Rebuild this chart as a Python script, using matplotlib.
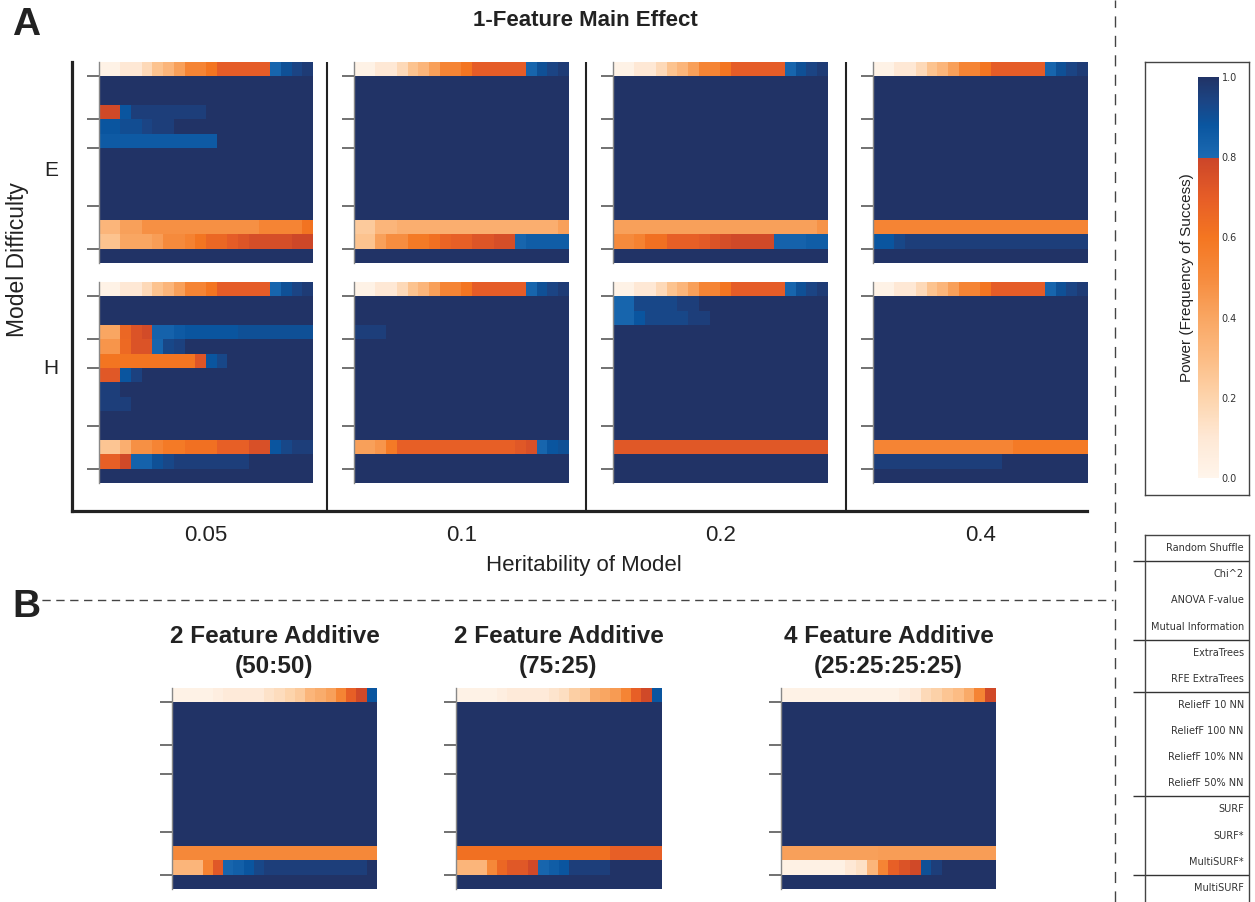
import numpy as np
import matplotlib
matplotlib.use("Agg")
import matplotlib.pyplot as plt
from matplotlib.colors import LinearSegmentedColormap, Normalize
from matplotlib.cm import ScalarMappable
from matplotlib.lines import Line2D

plt.rcParams['font.family'] = ['Liberation Sans', 'DejaVu Sans']

# ---- data (power values, 14 methods x 20 columns) ----
methods = ['Random Shuffle', 'Chi^2', 'ANOVA F-value', 'Mutual Information',
           'ExtraTrees', 'RFE ExtraTrees', 'ReliefF 10 NN', 'ReliefF 100 NN',
           'ReliefF 10% NN', 'ReliefF 50% NN', 'SURF', 'SURF*', 'MultiSURF*',
           'MultiSURF']
group_breaks = [1, 4, 6, 10, 13]
heritability = ['0.05', '0.1', '0.2', '0.4']
difficulty = ['E', 'H']
b_titles = ['2 Feature Additive\n(50:50)', '2 Feature Additive\n(75:25)',
            '4 Feature Additive\n(25:25:25:25)']

# top row (Random Shuffle)
shuffle_a = [0.02, 0.02, 0.10, 0.10, 0.17, 0.27, 0.33, 0.42, 0.53, 0.53,
             0.60, 0.70, 0.70, 0.70, 0.70, 0.70, 0.82, 0.90, 0.94, 0.97]
shuffle_b1 = [0.02, 0.02, 0.02, 0.02, 0.05, 0.08, 0.08, 0.08, 0.08, 0.13,
              0.16, 0.20, 0.24, 0.33, 0.37, 0.42, 0.53, 0.69, 0.78, 0.88]
shuffle_b2 = [0.02, 0.02, 0.02, 0.02, 0.05, 0.08, 0.08, 0.08, 0.08, 0.12,
              0.15, 0.22, 0.24, 0.37, 0.40, 0.44, 0.53, 0.69, 0.78, 0.88]
shuffle_b3 = [0.02, 0.02, 0.02, 0.02, 0.02, 0.02, 0.02, 0.02, 0.02, 0.02,
              0.02, 0.06, 0.09, 0.17, 0.21, 0.26, 0.30, 0.38, 0.53, 0.78]

# other rows as (value, number of columns) runs; rows not listed are 1.0
E_005 = {3: [(0.78, 2), (0.88, 1), (0.96, 7), (1.0, 10)],
         4: [(0.88, 2), (0.91, 2), (0.94, 1), (0.96, 2), (1.0, 13)],
         5: [(0.86, 11), (1.0, 9)],
         11: [(0.33, 2), (0.42, 2), (0.48, 11), (0.53, 4), (0.61, 1)],
         12: [(0.27, 2), (0.40, 3), (0.43, 1), (0.50, 2), (0.54, 1), (0.60, 1),
              (0.66, 2), (0.70, 1), (0.73, 1), (0.76, 4), (0.79, 2)]}
H_005 = {3: [(0.40, 2), (0.66, 1), (0.74, 1), (0.77, 1), (0.83, 2), (0.86, 1),
             (0.88, 5), (0.90, 7)],
         4: [(0.46, 2), (0.65, 1), (0.74, 2), (0.82, 1), (0.93, 1), (0.95, 1), (1.0, 12)],
         5: [(0.60, 9), (0.73, 1), (0.88, 1), (0.93, 1), (1.0, 8)],
         6: [(0.72, 2), (0.88, 1), (0.95, 1), (1.0, 16)],
         7: [(0.96, 2), (1.0, 18)],
         8: [(0.96, 3), (1.0, 17)],
         11: [(0.26, 2), (0.36, 1), (0.48, 2), (0.53, 1), (0.58, 2), (0.62, 3),
              (0.69, 3), (0.75, 2), (0.88, 1), (0.93, 1), (0.96, 2)],
         12: [(0.69, 2), (0.78, 1), (0.83, 2), (0.90, 1), (0.93, 1), (0.96, 7), (1.0, 6)]}
E_01 = {11: [(0.24, 2), (0.33, 2), (0.36, 15), (0.42, 1)],
        12: [(0.27, 2), (0.42, 1), (0.49, 2), (0.58, 2), (0.62, 1), (0.67, 1),
             (0.69, 2), (0.73, 2), (0.76, 2), (0.82, 1), (0.85, 4)]}
H_01 = {3: [(0.96, 3), (1.0, 17)],
        11: [(0.42, 2), (0.46, 1), (0.58, 1), (0.69, 11), (0.72, 1), (0.75, 1),
             (0.82, 1), (0.88, 1), (0.90, 1)]}
E_02 = {11: [(0.42, 19), (0.47, 1)],
        12: [(0.50, 2), (0.54, 1), (0.62, 2), (0.69, 3), (0.71, 1), (0.74, 1),
             (0.76, 1), (0.78, 4), (0.83, 3), (0.85, 2)]}
H_02 = {1: [(0.82, 2), (0.93, 4), (0.96, 2), (1.0, 12)],
        2: [(0.82, 2), (0.88, 1), (0.93, 4), (0.96, 2), (1.0, 11)],
        11: [(0.72, 20)]}
E_04 = {11: [(0.53, 20)],
        12: [(0.88, 2), (0.93, 1), (0.96, 17)]}
H_04 = {11: [(0.53, 13), (0.58, 7)],
        12: [(0.96, 12), (1.0, 8)]}
add_50_50 = {11: [(0.51, 20)],
             12: [(0.33, 3), (0.54, 1), (0.72, 1), (0.82, 1), (0.84, 1), (0.88, 1),
                  (0.93, 1), (0.96, 10), (1.0, 1)]}
add_75_25 = {11: [(0.62, 15), (0.69, 5)],
             12: [(0.33, 3), (0.51, 1), (0.66, 1), (0.72, 2), (0.78, 1), (0.82, 1),
                  (0.85, 1), (0.88, 1), (0.96, 4), (1.0, 5)]}
add_4 = {11: [(0.42, 9), (0.43, 11)],
         12: [(0.03, 6), (0.10, 1), (0.14, 1), (0.33, 1), (0.53, 1), (0.69, 1),
              (0.74, 1), (0.78, 1), (0.90, 1), (0.96, 1), (1.0, 5)]}

# colour map: oranges up to 0.8, blues above
cmap = LinearSegmentedColormap.from_list('power', [
    (0.00, '#FFF5EB'), (0.10, '#FEE8D5'), (0.20, '#FDD4AC'), (0.30, '#FCBC84'),
    (0.40, '#F9A662'), (0.50, '#F68B3D'), (0.60, '#F47621'), (0.70, '#E65D27'),
    (0.80, '#CB4529'), (0.80, '#1C6AB2'), (0.88, '#0A56A0'), (0.94, '#1B4585'),
    (1.00, '#213366')], N=512)
norm = Normalize(0, 1)

W, H = 1255, 902
fig = plt.figure(figsize=(W / 100, H / 100), dpi=100)


def px_axes(x0, y0, x1, y1):
    return fig.add_axes([x0 / W, 1 - y1 / H, (x1 - x0) / W, (y1 - y0) / H])


def grid(rows, top):
    m = np.ones((len(methods), 20))
    m[0] = top
    for r, segs in rows.items():
        m[r] = np.concatenate([np.full(n, v) for v, n in segs])
    return m


def heat(rect, m, title=None):
    ax = px_axes(*rect)
    ax.imshow(m, cmap=cmap, norm=norm, aspect='auto', interpolation='nearest')
    ax.set_xticks([])
    ax.set_yticks([b - 0.5 for b in group_breaks])
    ax.set_yticklabels([])
    ax.tick_params(axis='y', length=9, width=1.3, color='#666666')
    for s in ['top', 'right', 'bottom']:
        ax.spines[s].set_visible(False)
    ax.spines['left'].set_color('#888888')
    ax.spines['left'].set_linewidth(1)
    if title:
        ax.set_title(title, fontsize=17.5, fontweight='bold', pad=11,
                     linespacing=1.4, color='#222222')
    return ax


# ---- panel A frame ----
fr = px_axes(72, 62, 1087, 511)
fr.set_xlim(72, 1087)
fr.set_ylim(511, 62)
fr.patch.set_visible(False)
for s in ['top', 'right']:
    fr.spines[s].set_visible(False)
for s in ['left', 'bottom']:
    fr.spines[s].set_linewidth(2.3)
    fr.spines[s].set_color('#222222')
for xs in [327, 586, 846]:
    fr.axvline(xs, color='#222222', lw=1.5)
a_cols = [(99, 313), (354, 569), (613, 828), (873, 1088)]
a_rows = [(62, 263), (282, 483)]
fr.set_xticks([(a + b) / 2 for a, b in a_cols])
fr.set_xticklabels(heritability, fontsize=16, color='#222222')
fr.set_yticks([168, 366])
fr.set_yticklabels(difficulty, fontsize=15, color='#222222')
fr.tick_params(axis='x', length=0, pad=10)
fr.tick_params(axis='y', length=0, pad=10)

a_data = [[E_005, E_01, E_02, E_04], [H_005, H_01, H_02, H_04]]
for i, (y0, y1) in enumerate(a_rows):
    for j, (x0, x1) in enumerate(a_cols):
        heat((x0, y0, x1, y1), grid(a_data[i][j], shuffle_a))

fig.text(584 / W, 1 - 565 / H, 'Heritability of Model', fontsize=16,
         ha='center', va='center', color='#222222')
fig.text(18 / W, 1 - 260 / H, 'Model Difficulty', fontsize=16.5, rotation=90,
         ha='center', va='center', color='#222222')
fig.text(585 / W, 1 - 20 / H, '1-Feature Main Effect', fontsize=16,
         fontweight='bold', ha='center', va='center', color='#222222')
fig.text(12 / W, 1 - 25 / H, 'A', fontsize=28, fontweight='bold',
         ha='left', va='center', color='#222222')
fig.text(12 / W, 1 - 607 / H, 'B', fontsize=28, fontweight='bold',
         ha='left', va='center', color='#222222')

# ---- panel B ----
b_cols = [(172, 377), (456, 661), (781, 996)]
b_data = [grid(add_50_50, shuffle_b1), grid(add_75_25, shuffle_b2),
          grid(add_4, shuffle_b3)]
for (x0, x1), m, t in zip(b_cols, b_data, b_titles):
    heat((x0, 688, x1, 889), m, t)

# dashed separators
fig.add_artist(Line2D([28 / W, 1113 / W], [1 - 600 / H, 1 - 600 / H],
                      transform=fig.transFigure, color='#444444', lw=1,
                      ls=(0, (6, 4))))
fig.add_artist(Line2D([1115 / W, 1115 / W], [0, 1], transform=fig.transFigure,
                      color='#444444', lw=1, ls=(0, (8, 6))))

# ---- colorbar box ----
box = px_axes(1145, 62, 1249, 495)
box.set_xticks([])
box.set_yticks([])
for s in box.spines.values():
    s.set_color('#444444')
    s.set_linewidth(1)
cax = px_axes(1198, 77, 1219, 478)
cb = fig.colorbar(ScalarMappable(norm=norm, cmap=cmap), cax=cax,
                  ticks=[0, 0.2, 0.4, 0.6, 0.8, 1.0])
cb.outline.set_visible(False)
cb.ax.set_yticklabels(['0.0', '0.2', '0.4', '0.6', '0.8', '1.0'],
                      fontsize=7, family='DejaVu Sans', color='#333333')
cb.ax.tick_params(length=0, pad=2)
cb.set_label('Power (Frequency of Success)', fontsize=11, color='#222222',
             labelpad=3)
cb.ax.yaxis.set_label_position('left')

# ---- method legend box ----
lg = px_axes(1145, 535, 1249, 901)
lg.set_xlim(0, 1)
lg.set_ylim(len(methods), 0)
lg.set_xticks([])
lg.set_yticks([])
lg.spines['bottom'].set_visible(False)
for s in ['left', 'top', 'right']:
    lg.spines[s].set_color('#444444')
    lg.spines[s].set_linewidth(1)
for i, name in enumerate(methods):
    lg.text(0.95, i + 0.5, name, ha='right', va='center', fontsize=7,
            family='DejaVu Sans', color='#333333')
lg.hlines(group_breaks, -12 / 104, 1, color='#333333', lw=1, clip_on=False)

fig.savefig('out.png', dpi=100)
